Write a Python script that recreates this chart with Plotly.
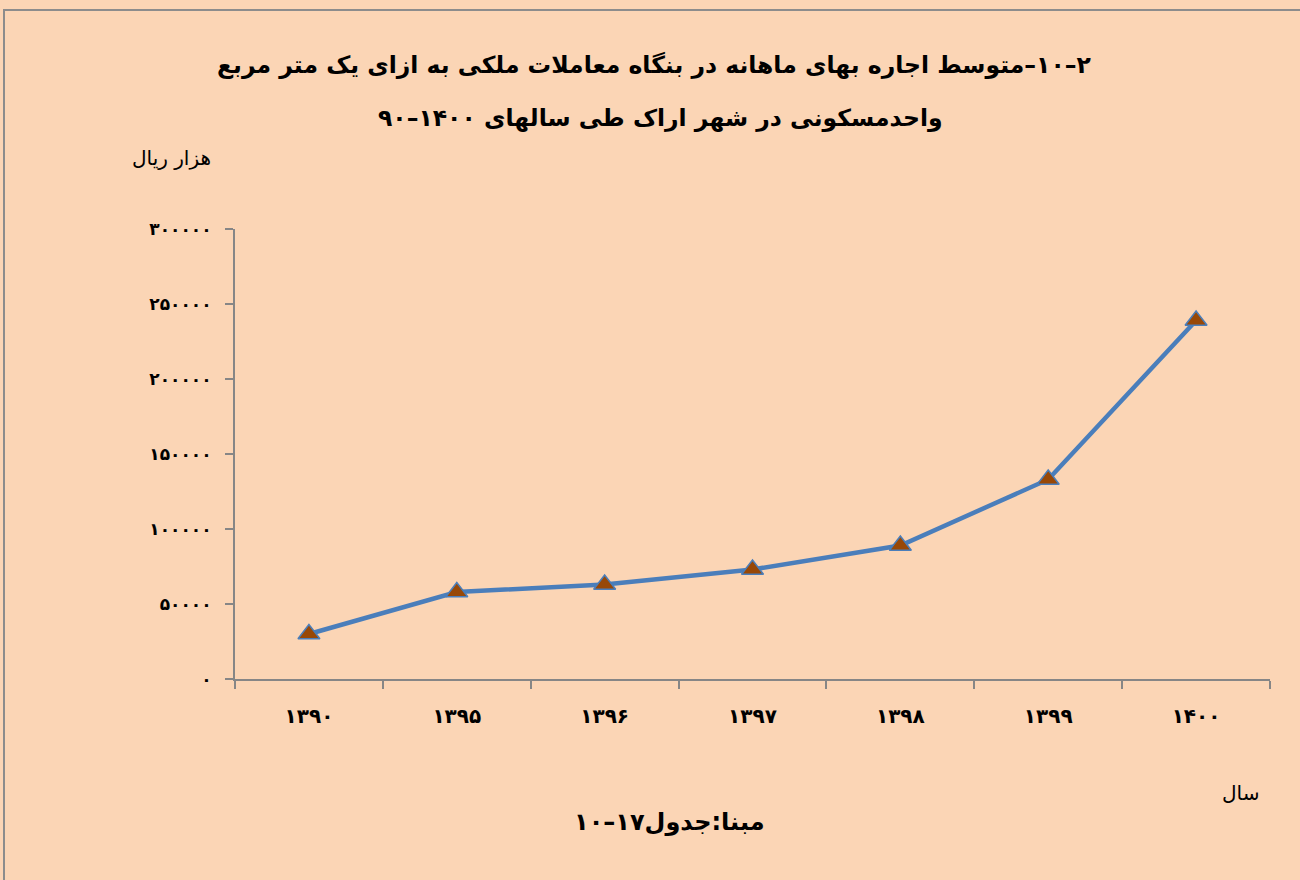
import plotly.graph_objects as go

years = ["۱۳۹۰", "۱۳۹۵", "۱۳۹۶", "۱۳۹۷", "۱۳۹۸", "۱۳۹۹", "۱۴۰۰"]
rent = [30000, 58000, 63000, 73000, 89000, 133000, 239000]
y_tick_vals = [0, 50000, 100000, 150000, 200000, 250000, 300000]
y_tick_text = ["۰", "۵۰۰۰۰", "۱۰۰۰۰۰", "۱۵۰۰۰۰", "۲۰۰۰۰۰", "۲۵۰۰۰۰", "۳۰۰۰۰۰"]

RLM = "\u200f"
title_line1 = "۲–۱۰–متوسط اجاره بهای ماهانه در بنگاه معاملات ملکی به ازای یک متر مربع"
title_line2 = "واحدمسکونی در شهر اراک طی سالهای ۱۴۰۰–۹۰"
y_label = "هزار ریال"
x_label = "سال"
source = "مبنا:جدول۱۷–۱۰"

BG = "#FBD5B5"
AX = "#868686"
FONT = "DejaVu Sans"

fig = go.Figure()
fig.add_trace(go.Scatter(
    x=years, y=rent, mode="lines+markers",
    line=dict(color="#4A7EBB", width=4.5),
    marker=dict(symbol="triangle-up", size=19, color="#984807",
                line=dict(color="#4A7EBB", width=1.5)),
    showlegend=False, cliponaxis=False, hoverinfo="skip",
))

W, H = 1300, 880
L, R, T, B = 235, 30, 229, 201
pw, ph = W - L - R, H - T - B

def px(x):
    return (x - L) / pw

def py(y):
    return (H - B - y) / ph

fig.update_layout(
    width=W, height=H,
    margin=dict(l=L, r=R, t=T, b=B),
    paper_bgcolor=BG, plot_bgcolor=BG,
    font=dict(family=FONT, color="black"),
    xaxis=dict(type="category", tickson="boundaries", showline=True,
               linecolor=AX, linewidth=2, ticks="outside", ticklen=8,
               tickcolor=AX, tickwidth=2, showgrid=False, zeroline=False,
               tickfont=dict(size=20, family=FONT, color="black", weight="bold"),
               ticklabelstandoff=18, range=[-0.5, 6.5]),
    yaxis=dict(range=[0, 300000], tickvals=y_tick_vals, ticktext=y_tick_text,
               showline=True, linecolor=AX, linewidth=2, ticks="outside",
               ticklen=8, tickcolor=AX, tickwidth=2, showgrid=False,
               zeroline=False,
               tickfont=dict(size=17, family=FONT, color="black", weight="bold"),
               ticklabelstandoff=10),
)

annotations = [
    dict(text="<b>" + RLM + title_line1 + RLM + "</b>", x=px(654), y=py(65)),
    dict(text="<b>" + RLM + title_line2 + RLM + "</b>", x=px(660), y=py(118)),
]
for a in annotations:
    a.update(xref="paper", yref="paper", showarrow=False,
             font=dict(size=23.5, family=FONT, color="black"),
             xanchor="center", yanchor="middle")
    fig.add_annotation(**a)

fig.add_annotation(text=RLM + y_label, x=px(171), y=py(158), xref="paper", yref="paper",
                   showarrow=False, font=dict(size=20, family=FONT, color="black"),
                   xanchor="center", yanchor="middle")
fig.add_annotation(text=RLM + x_label, x=px(1240), y=py(793), xref="paper", yref="paper",
                   showarrow=False, font=dict(size=20, family=FONT, color="black"),
                   xanchor="center", yanchor="middle")
fig.add_annotation(text="<b>" + RLM + source + RLM + "</b>", x=px(669), y=py(822), xref="paper", yref="paper",
                   showarrow=False, font=dict(size=24, family=FONT, color="black"),
                   xanchor="center", yanchor="middle")

fig.add_shape(type="rect", xref="paper", yref="paper",
              x0=px(4), x1=px(1320), y0=py(900), y1=py(10),
              line=dict(color="#8C8C8C", width=2), fillcolor="rgba(0,0,0,0)",
              layer="below")

fig.write_html("out.html", config={"displayModeBar": False},
               post_script="document.body.style.margin='0px';")
